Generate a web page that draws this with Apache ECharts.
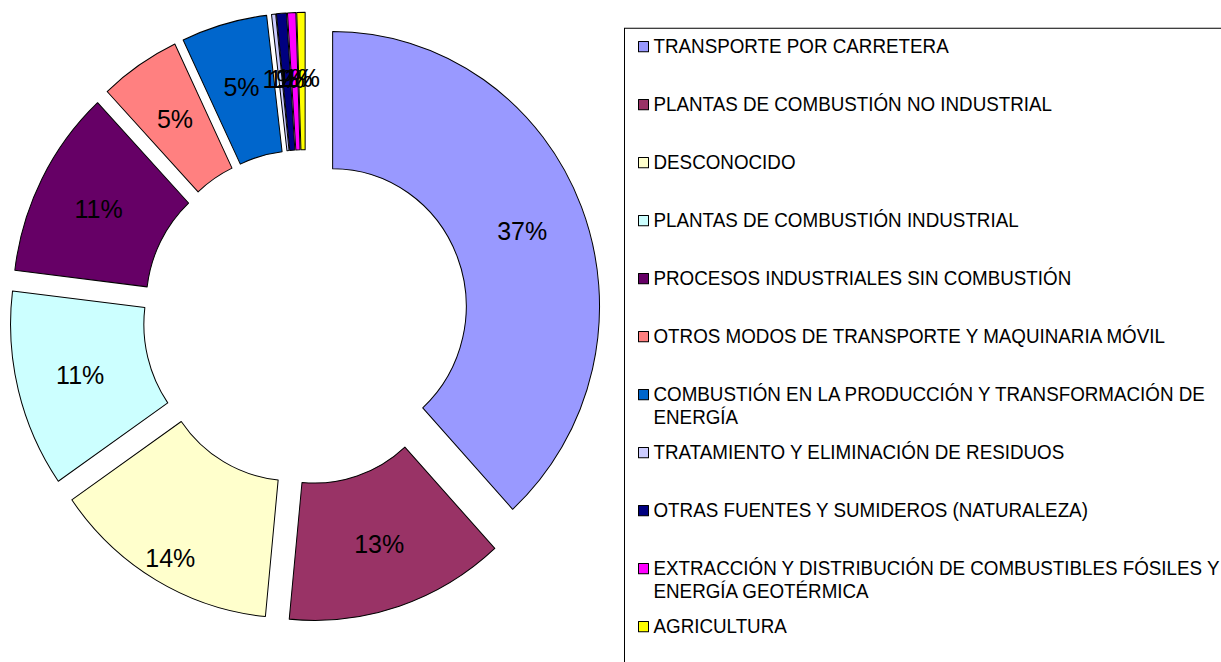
<!DOCTYPE html>
<html>
<head>
<meta charset="utf-8">
<script src="https://cdn.jsdelivr.net/npm/echarts@6/dist/echarts.min.js"></script>
<style>
  html, body { margin: 0; padding: 0; background: #fff; overflow: hidden; }
  /* the reference drawing is slightly taller than wide (about 3 %) */
  #chart { width: 1221px; height: 662px; transform: scaleY(1.03); transform-origin: 0 0; }
</style>
</head>
<body>
<div id="chart"></div>
<script>
// Categories (legend order = slice order, clockwise from 12 o'clock)
const categories = [
  'TRANSPORTE POR CARRETERA',
  'PLANTAS DE COMBUSTIÓN NO INDUSTRIAL',
  'DESCONOCIDO',
  'PLANTAS DE COMBUSTIÓN INDUSTRIAL',
  'PROCESOS INDUSTRIALES SIN COMBUSTIÓN',
  'OTROS MODOS DE TRANSPORTE Y MAQUINARIA MÓVIL',
  'COMBUSTIÓN EN LA PRODUCCIÓN Y TRANSFORMACIÓN DE ENERGÍA',
  'TRATAMIENTO Y ELIMINACIÓN DE RESIDUOS',
  'OTRAS FUENTES Y SUMIDEROS (NATURALEZA)',
  'EXTRACCIÓN Y DISTRIBUCIÓN DE COMBUSTIBLES FÓSILES Y ENERGÍA GEOTÉRMICA',
  'AGRICULTURA'
];
// Slice sizes (share of total, %) as drawn
const shares = [38.2, 13.3, 13.8, 11.6, 11.1, 4.9, 5.2, 0.25, 0.6, 0.5, 0.5];
// Percentage labels as printed on the slices
const shareLabels = ['37%', '13%', '14%', '11%', '11%', '5%', '5%', '1%', '1%', '1%', '1%'];
const colors = ['#9999FF', '#993366', '#FFFFCC', '#CCFFFF', '#660066', '#FF8080',
                '#0066CC', '#CCCCFF', '#000080', '#FF00FF', '#FFFF00'];

const FONT_FAMILY = '"Liberation Sans", Arial, sans-serif';
const LEGEND_FONT_SIZE = 18.8;
const LEGEND_LINE = 21.85;
const LEGEND_PITCH = 56.31;
const LEGEND_WRAP = 575;

// greedy word wrap of legend names to the legend width
const measureCtx = document.createElement('canvas').getContext('2d');
measureCtx.font = LEGEND_FONT_SIZE + 'px ' + FONT_FAMILY;
function wrapName(name) {
  const words = name.split(' ');
  const lines = [];
  let cur = '';
  words.forEach(w => {
    const test = cur ? cur + ' ' + w : w;
    if (cur && measureCtx.measureText(test).width > LEGEND_WRAP) {
      lines.push(cur);
      cur = w;
    } else {
      cur = test;
    }
  });
  lines.push(cur);
  return lines;
}
// legend text: wrapped entries keep their marker beside the first line
// (an empty line above balances the block that is centred on the marker)
function legendLabel(name) {
  const lines = wrapName(name);
  return lines.length > 1 ? '\n' + lines.join('\n') : lines[0];
}

const chart = echarts.init(document.getElementById('chart'), null, { renderer: 'svg' });

const legendBase = {
  orient: 'vertical',
  left: 638,
  padding: 0,
  itemWidth: 10,
  itemHeight: 10,
  itemGap: LEGEND_PITCH - LEGEND_LINE,
  icon: 'rect',
  selectedMode: false,
  formatter: legendLabel,
  itemStyle: { borderColor: '#000', borderWidth: 1 },
  textStyle: {
    color: '#000',
    fontFamily: FONT_FAMILY,
    fontSize: LEGEND_FONT_SIZE,
    lineHeight: LEGEND_LINE
  }
};
// Excel spaces the entries evenly by their first line; group them so that
// wrapped entries do not push the following ones down
const FIRST_CENTER = 45.34;
const groups = [[0, 6], [6, 7], [7, 9], [9, 10], [10, 11]];
const legends = groups.map(([a, b]) => {
  const wrapped = wrapName(categories[a]).length > 1;
  const center = FIRST_CENTER + a * LEGEND_PITCH;
  const top = center - (wrapped ? 1.5 : 0.5) * LEGEND_LINE;
  return Object.assign({}, legendBase, { top: top, data: categories.slice(a, b) });
});

chart.setOption({
  animation: false,
  color: colors,
  graphic: [{
    type: 'rect',
    z: -1,
    shape: { x: 624.5, y: 27.5, width: 700, height: 700 },
    style: { fill: 'none', stroke: '#000', lineWidth: 1 }
  }],
  legend: legends,
  series: [{
    type: 'pie',
    center: [305.6, 307.9],
    radius: [133.6, 266.9],
    startAngle: 90,
    clockwise: true,
    selectedMode: 'multiple',
    selectedOffset: 29,
    avoidLabelOverlap: false,
    itemStyle: { borderColor: '#000', borderWidth: 1 },
    label: {
      show: true,
      position: 'inside',
      color: '#000',
      fontFamily: FONT_FAMILY,
      fontSize: 25,
      formatter: p => shareLabels[p.dataIndex]
    },
    // the "DESCONOCIDO" label sits further out on its slice in the reference
    labelLayout: p => (p.dataIndex === 2 ? { dx: -18, dy: 33 } : {}),
    labelLine: { show: false },
    emphasis: { disabled: true },
    data: categories.map((name, i) => ({ name: name, value: shares[i], selected: true }))
  }]
});
</script>
</body>
</html>
